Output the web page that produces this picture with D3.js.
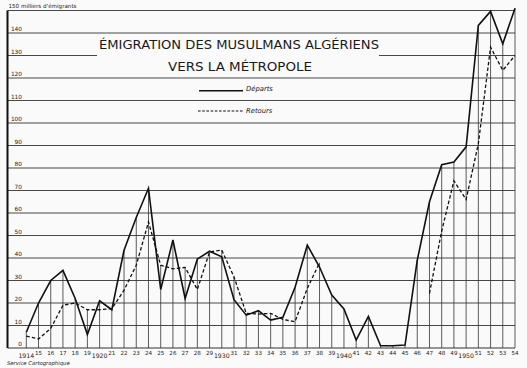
<!DOCTYPE html>
<html><head><meta charset="utf-8">
<script src="https://cdn.jsdelivr.net/npm/d3@7"></script>
<style>
html,body{margin:0;padding:0;background:#fafafa;}
svg{display:block;}
text{fill:#1a1a1a;}
</style></head>
<body>
<script>
const years = d3.range(1914, 1955);
const departs = [7,20,30,34.5,22,6,21,17,43.5,58,71,26,48,22,39.5,43,40.5,21.5,14.6,16.6,12.4,13.6,27,45.7,36,23.5,17.4,3.5,14,1,1,1.3,39,65,81.5,82.7,89.4,143.4,149.6,135.2,151];
const retours = [5.3,4,8.7,19,20,17,17,17.5,25.7,36.8,56,36.8,35.2,35.8,26,42.7,43.5,31.6,15.4,15.1,15.4,12.7,11.7,26.5,37.9,null,null,null,null,null,null,null,null,24.3,52,74.3,66,90.8,133.7,123.4,130];
const yTicks = [0,10,20,30,40,50,60,70,80,90,100,110,120,130,140];
const xShort = [15,16,17,18,19,21,22,23,24,25,26,27,28,29,31,32,33,34,35,36,37,38,39,41,42,43,44,45,46,47,48,49,51,52,53,54];
const xLong = [1914,1920,1930,1940,1950];

const W = 527, H = 368;
const svg = d3.select("body").append("svg").attr("width", W).attr("height", H);
const x = d3.scaleLinear().domain([1914, 1954]).range([26.3, 515]);
const y = d3.scaleLinear().domain([0, 150]).range([348, 10.5]);
const left = 7.5, right = 515;

// horizontal grid
const gridVals = d3.range(0, 151, 10);
gridVals.forEach(v => {
  if (v === 130) {
    svg.append("line").attr("x1", left).attr("x2", 97).attr("y1", y(v)).attr("y2", y(v))
      .attr("stroke", "#333").attr("stroke-width", 0.9);
    svg.append("line").attr("x1", 379).attr("x2", right).attr("y1", y(v)).attr("y2", y(v))
      .attr("stroke", "#333").attr("stroke-width", 0.9);
  } else {
    svg.append("line").attr("x1", left).attr("x2", right).attr("y1", y(v)).attr("y2", y(v))
      .attr("stroke", "#333").attr("stroke-width", v === 0 ? 1.2 : 0.9);
  }
});

// drop lines
years.forEach((yr, i) => {
  const m = Math.max(departs[i], retours[i] == null ? 0 : retours[i]);
  svg.append("line").attr("x1", x(yr)).attr("x2", x(yr)).attr("y1", y(0)).attr("y2", y(m))
    .attr("stroke", "#333").attr("stroke-width", 0.8);
});

// left axis
svg.append("line").attr("x1", left).attr("x2", left).attr("y1", y(150)).attr("y2", y(0))
  .attr("stroke", "#111").attr("stroke-width", 2);

// y labels
svg.selectAll(".yl").data(yTicks).enter().append("text")
  .attr("x", 22).attr("y", d => y(d) - 1.8).attr("text-anchor", "end")
  .attr("font-family", "DejaVu Sans").attr("font-size", 5.8).text(d => d);
svg.append("text").attr("x", 8.5).attr("y", 8).attr("font-family", "DejaVu Sans")
  .attr("font-size", 5.6).text("150 milliers d'émigrants");

// x labels
svg.selectAll(".xs").data(xShort).enter().append("text")
  .attr("x", d => x(1900 + d)).attr("y", 354.5).attr("text-anchor", "middle")
  .attr("font-family", "DejaVu Sans").attr("font-size", 5.6).text(d => d);
svg.selectAll(".xlg").data(xLong).enter().append("text")
  .attr("x", d => x(d)).attr("y", 358).attr("text-anchor", "middle")
  .attr("font-family", "DejaVu Sans").attr("font-size", 6.2).text(d => d);
svg.append("text").attr("x", 7).attr("y", 364.5).attr("font-family", "DejaVu Sans")
  .attr("font-style", "italic").attr("font-size", 5.3).text("Service Cartographique");

// series
const line = d3.line().x((d, i) => x(years[i])).y(d => y(d)).defined(d => d != null);
svg.append("path").attr("d", line(retours)).attr("fill", "none").attr("stroke", "#111")
  .attr("stroke-width", 1.3).attr("stroke-dasharray", "3.5,2.2");
svg.append("path").attr("d", line(departs)).attr("fill", "none").attr("stroke", "#111")
  .attr("stroke-width", 1.6).attr("stroke-linejoin", "miter");

// title
svg.append("text").attr("x", 99).attr("y", 49.3).attr("font-family", "DejaVu Sans")
  .attr("font-size", 11.8).attr("textLength", 280).attr("lengthAdjust", "spacingAndGlyphs")
  .text("ÉMIGRATION DES MUSULMANS ALGÉRIENS");
svg.append("text").attr("x", 168).attr("y", 70.5).attr("font-family", "DejaVu Sans")
  .attr("font-size", 11.8).attr("textLength", 144).attr("lengthAdjust", "spacingAndGlyphs")
  .text("VERS LA MÉTROPOLE");

// legend
svg.append("line").attr("x1", 199).attr("x2", 243).attr("y1", 90.7).attr("y2", 90.7)
  .attr("stroke", "#111").attr("stroke-width", 1.4);
svg.append("text").attr("x", 246).attr("y", 91).attr("font-family", "DejaVu Sans")
  .attr("font-style", "italic").attr("font-size", 6.8).text("Départs");
svg.append("line").attr("x1", 198).attr("x2", 243).attr("y1", 111).attr("y2", 111)
  .attr("stroke", "#111").attr("stroke-width", 1.2).attr("stroke-dasharray", "2.6,1.6");
svg.append("text").attr("x", 246).attr("y", 112.5).attr("font-family", "DejaVu Sans")
  .attr("font-style", "italic").attr("font-size", 6.8).text("Retours");
</script>
</body></html>
